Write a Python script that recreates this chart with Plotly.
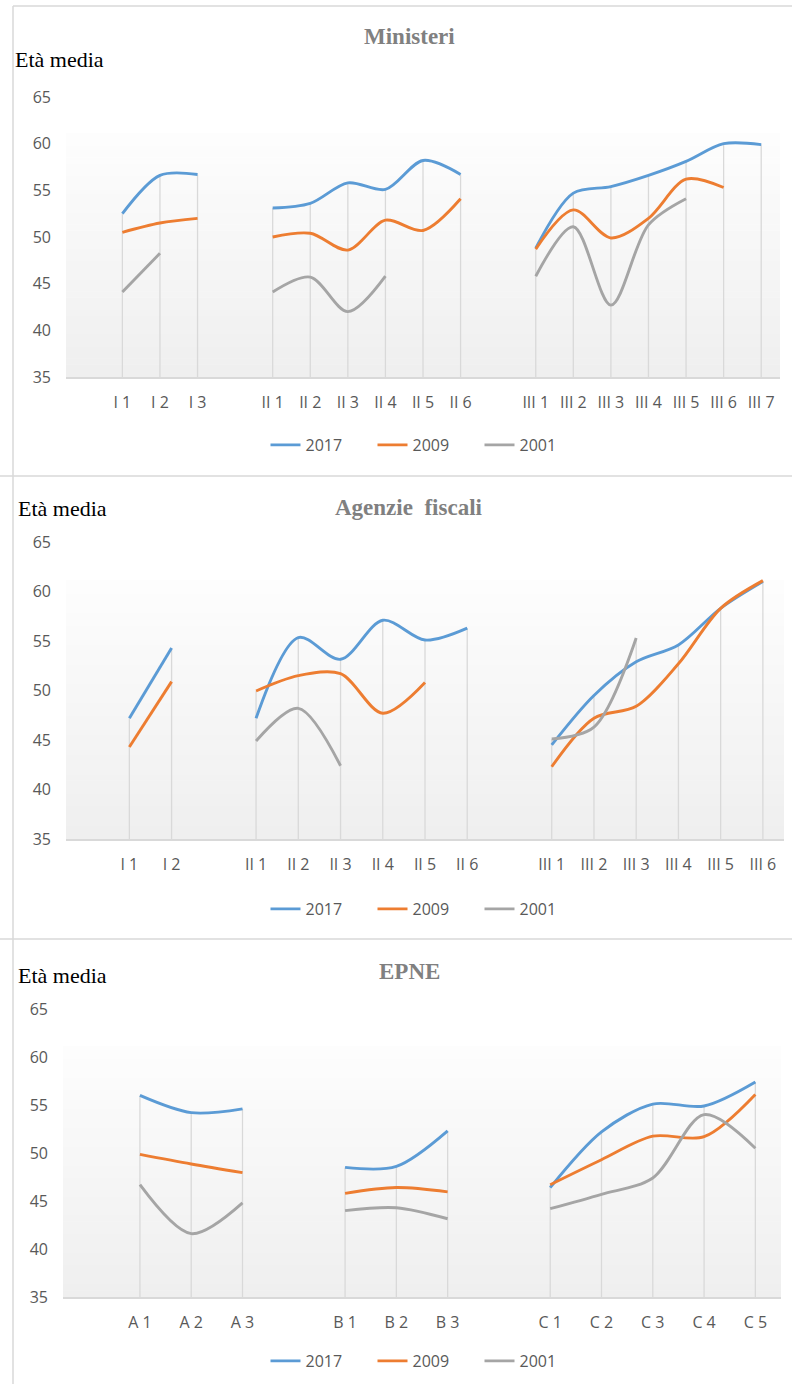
import plotly.graph_objects as go

# ---------------- DATA ----------------
series_names = ["2017", "2009", "2001"]
series_colors = ["#5B9BD5", "#ED7D31", "#A5A5A5"]

panel_titles = ["Ministeri", "Agenzie  fiscali", "EPNE"]
y_label = "Età media"
y_ticks = [35, 40, 45, 50, 55, 60, 65]

# Ministeri
min_groups = [["I 1", "I 2", "I 3"],
              ["II 1", "II 2", "II 3", "II 4", "II 5", "II 6"],
              ["III 1", "III 2", "III 3", "III 4", "III 5", "III 6", "III 7"]]
min_2017 = [52.5, 56.6, 56.7, 53.1, 53.6, 55.8, 55.1, 58.2, 56.7,
            48.8, 54.7, 55.4, 56.6, 58.1, 60.0, 59.9]
min_2009 = [50.5, 51.5, 52.0, 50.0, 50.4, 48.6, 51.8, 50.7, 54.1,
            48.7, 52.9, 49.9, 52.0, 56.2, 55.3, None]
min_2001 = [44.1, 48.25, None, 44.1, 45.7, 42.0, 45.8, None, None,
            45.8, 51.1, 42.7, 51.3, 54.1, None, None]

# Agenzie fiscali
age_groups = [["I 1", "I 2"],
              ["II 1", "II 2", "II 3", "II 4", "II 5", "II 6"],
              ["III 1", "III 2", "III 3", "III 4", "III 5", "III 6"]]
age_2017 = [47.2, 54.3, 47.2, 55.35, 53.15, 57.1, 55.1, 56.3,
            44.5, 49.5, 52.9, 54.6, 58.3, 61.0]
age_2009 = [44.3, 50.9, 49.95, 51.5, 51.7, 47.7, 50.8, None,
            42.3, 47.2, 48.4, 52.7, 58.3, 61.1]
age_2001 = [None, None, 44.9, 48.2, 42.4, None, None, None,
            45.1, 46.3, 55.3, None, None, None]

# EPNE
epne_groups = [["A 1", "A 2", "A 3"],
               ["B 1", "B 2", "B 3"],
               ["C 1", "C 2", "C 3", "C 4", "C 5"]]
epne_2017 = [56.0, 54.2, 54.6, 48.5, 48.6, 52.3, 46.4, 52.2, 55.1, 54.9, 57.4]
epne_2009 = [49.85, 48.85, 47.95, 45.8, 46.4, 45.95, 46.7, 49.3, 51.75, 51.7, 56.1]
epne_2001 = [46.7, 41.6, 44.8, 44.0, 44.3, 43.15, 44.2, 45.7, 47.4, 54.0, 50.5]

panels = [
    (min_groups, [min_2017, min_2009, min_2001]),
    (age_groups, [age_2017, age_2009, age_2001]),
    (epne_groups, [epne_2017, epne_2009, epne_2001]),
]

# ---------------- LAYOUT (pixel geometry) ----------------
W, H = 792, 1384
def px_x(x): return x / W
def px_y(y): return 1 - y / H

# plot-area pixel boxes: (left, right, top(65), bottom(35))
boxes = [(66, 780, 97, 377), (66, 784, 542, 839), (63, 781, 1009, 1297)]
title_pos = [(409, 37), (409, 507), (409, 971)]
ylab_pos = [(13, 60), (16, 508), (16, 975)]
legend_y = [445, 909, 1361]

GRID = "#d9d9d9"
TXT = "#595959"
TICKFONT = dict(family="Open Sans", size=16, color=TXT)

fig = go.Figure()
shapes = []
annotations = []

def layout_group(groups, series):
    """Category index for each label (one blank slot before each group),
    plus each series expanded with None at blank slots so lines break."""
    xs, labels, full = [], [], [[] for _ in series]
    idx, i = 0, 0
    for g in groups:
        xs.append(i); i += 1
        for s in full: s.append(None)
        for lab in g:
            xs.append(i); labels.append((i, lab)); i += 1
            for s, src in zip(full, series): s.append(src[idx])
            idx += 1
    return xs, labels, full, i

for p, (groups, values) in enumerate(panels):
    k = "" if p == 0 else str(p + 1)
    xa, ya = "x" + k, "y" + k
    leg = "legend" + k
    xs, labels, full, n = layout_group(groups, values)
    tickvals = [t[0] for t in labels]
    ticktext = [t[1] for t in labels]

    # drop lines (from axis up to the highest value of each category)
    dx, dy = [], []
    for j, xp in enumerate(xs):
        vals = [s[j] for s in full if s[j] is not None]
        if vals:
            dx += [xp, xp, None]; dy += [35, max(vals), None]
    fig.add_trace(go.Scatter(x=dx, y=dy, mode="lines", xaxis=xa, yaxis=ya,
                             line=dict(color=GRID, width=1.3),
                             showlegend=False, hoverinfo="skip"))
    for name, col, s in zip(series_names, series_colors, full):
        fig.add_trace(go.Scatter(x=xs, y=s, name=name, mode="lines",
                                 xaxis=xa, yaxis=ya, legend=leg,
                                 connectgaps=False,
                                 line=dict(color=col, width=2.9, shape="spline", smoothing=0.9)))

    l, r, t, b = boxes[p]
    fig.layout["xaxis" + k] = dict(
        domain=[px_x(l), px_x(r)], anchor=ya, range=[-0.5, n - 0.5],
        tickvals=tickvals, ticktext=ticktext, tickfont=TICKFONT, showgrid=False,
        zeroline=False, showline=True, linecolor=GRID, linewidth=1.5,
        ticks="", ticklabelstandoff=10, fixedrange=True, automargin=False)
    fig.layout["yaxis" + k] = dict(
        domain=[px_y(b), px_y(t)], anchor=xa, range=[35, 65],
        tickvals=y_ticks, tickfont=TICKFONT, showgrid=False, zeroline=False,
        showline=False, ticks="", ticklabelstandoff=14, fixedrange=True,
        automargin=False)

    # gradient plot-area background
    nb = 40
    top_frac = 0.87
    for j in range(nb):
        f0, f1 = j / nb * top_frac, (j + 1) / nb * top_frac
        t_ = j / (nb - 1)
        c = int(round(0xef + (0xfd - 0xef) * t_))
        shapes.append(dict(type="rect", xref=xa + " domain", yref=ya + " domain",
                           x0=0, x1=1, y0=f0, y1=f1 + 0.002, layer="below",
                           line=dict(width=0), fillcolor=f"rgb({c},{c},{c})"))

    tx, ty = title_pos[p]
    annotations.append(dict(text=f"<b>{panel_titles[p]}</b>", xref="paper", yref="paper",
                            x=px_x(tx), y=px_y(ty), xanchor="center", yanchor="middle",
                            showarrow=False,
                            font=dict(family="Liberation Serif", size=23, color="#808080")))
    lx, ly = ylab_pos[p]
    annotations.append(dict(text=y_label, xref="paper", yref="paper",
                            x=px_x(lx), y=px_y(ly), xanchor="left", yanchor="middle",
                            showarrow=False,
                            font=dict(family="Liberation Serif", size=22, color="black")))

    fig.layout[leg] = dict(orientation="h", x=px_x(426), y=px_y(legend_y[p]),
                           xanchor="center", yanchor="middle",
                           font=dict(family="Open Sans", size=16, color=TXT),
                           itemwidth=30, entrywidth=62, entrywidthmode="pixels",
                           bgcolor="rgba(0,0,0,0)", traceorder="normal")

# panel frames
frame = dict(color=GRID, width=1.5)
for (x0, y0, x1, y1) in [(13, 6, 792, 6), (13, 6, 13, 476), (0, 476, 792, 476),
                         (13, 476, 13, 939), (0, 939, 792, 939), (13, 939, 13, 1384)]:
    shapes.append(dict(type="line", xref="paper", yref="paper",
                       x0=px_x(x0), x1=px_x(x1), y0=px_y(y0), y1=px_y(y1), line=frame))

fig.update_layout(width=W, height=H,
                  margin=dict(l=0, r=0, t=0, b=0, pad=0, autoexpand=False),
                  paper_bgcolor="white", plot_bgcolor="rgba(0,0,0,0)",
                  shapes=shapes, annotations=annotations, hovermode=False)

fig.write_html("out.html", config=dict(displayModeBar=False),
               post_script="document.body.style.margin='0';document.body.style.overflow='hidden';")
